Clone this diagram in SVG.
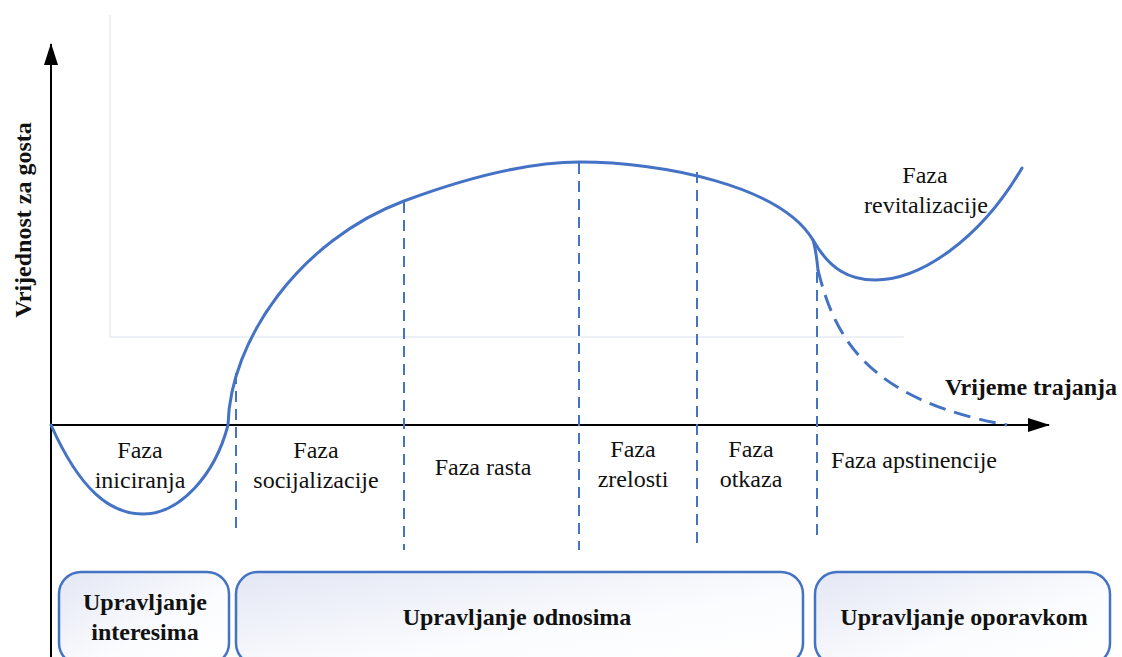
<svg xmlns="http://www.w3.org/2000/svg" width="1122" height="657" viewBox="0 0 1122 657">
<defs>
<linearGradient id="boxGrad" x1="0" y1="0" x2="1" y2="1">
<stop offset="0" stop-color="#e3e7f4"/>
<stop offset="0.6" stop-color="#fbfcfe"/>
<stop offset="1" stop-color="#ffffff"/>
</linearGradient>
<marker id="arrow" viewBox="0 0 22 14" refX="21" refY="7" markerWidth="22" markerHeight="14" markerUnits="userSpaceOnUse" orient="auto">
<path d="M0,0 L22,7 L0,14 Z" fill="#000"/>
</marker>
</defs>
<style>
.t{font-family:"Liberation Serif","Times New Roman",serif;font-size:24px;fill:#111;text-anchor:middle}
.b{font-weight:bold}
.curve{fill:none;stroke:#4472C4;stroke-width:3;stroke-linecap:round}
.vdash{fill:none;stroke:#4472C4;stroke-width:2;stroke-dasharray:11 7}
.ddash{fill:none;stroke:#4472C4;stroke-width:3;stroke-dasharray:17 9}
.axis{fill:none;stroke:#000;stroke-width:2}
.box{fill:url(#boxGrad);stroke:#4472C4;stroke-width:2.5}
.grid{fill:none;stroke:#e8ebf4;stroke-width:1.5}
</style>
<rect width="1122" height="657" fill="#fff"/>
<g id="plot-frame">
<path class="grid" d="M110,15 L110,337 L904,337"/>
</g>
<g id="axes">
<line class="axis" x1="51" y1="657" x2="51" y2="44" marker-end="url(#arrow)"/>
<line class="axis" x1="51" y1="425" x2="1049" y2="425" marker-end="url(#arrow)"/>
<text class="t b" transform="translate(31,220) rotate(-90)">Vrijednost za gosta</text>
<text class="t b" x="1031" y="395">Vrijeme trajanja</text>
</g>
<g id="connectors">
<line class="vdash" x1="236" y1="373" x2="236" y2="534"/>
<line class="vdash" x1="404" y1="202" x2="404" y2="550"/>
<line class="vdash" x1="579" y1="163" x2="579" y2="550"/>
<line class="vdash" x1="697" y1="172" x2="697" y2="550"/>
<line class="vdash" x1="817" y1="272" x2="817" y2="538"/>
<path class="curve" d="M51,425 C80,490 110,514 143,514 C180,514 215,475 228,425 C230,340 300,240 404,201 C474,175 530,162 580,162 C660,162 780,185 813,240 Q816,250 818,270"/>
<path class="curve" d="M813,240 C830,270 850,280 875,280 C920,280 980,240 1022,168"/>
<path class="ddash" d="M818,270 C835,340 870,400 1007,425"/>
</g>
<g id="phase-labels">
<text class="t" x="140" y="458">Faza</text>
<text class="t" x="140" y="488">iniciranja</text>
<text class="t" x="316" y="458">Faza</text>
<text class="t" x="316" y="488">socijalizacije</text>
<text class="t" x="483" y="475">Faza rasta</text>
<text class="t" x="633" y="457">Faza</text>
<text class="t" x="633" y="487">zrelosti</text>
<text class="t" x="751" y="457">Faza</text>
<text class="t" x="751" y="487">otkaza</text>
<text class="t" x="914" y="468">Faza apstinencije</text>
<text class="t" x="925" y="183">Faza</text>
<text class="t" x="926" y="213">revitalizacije</text>
</g>
<g id="box-interesi">
<rect class="box" x="59" y="572" width="170" height="93" rx="22"/>
<text class="t b" x="145" y="610">Upravljanje</text>
<text class="t b" x="145" y="640">interesima</text>
</g>
<g id="box-odnosi">
<rect class="box" x="236" y="572" width="567" height="93" rx="22"/>
<text class="t b" x="517" y="625">Upravljanje odnosima</text>
</g>
<g id="box-oporavak">
<rect class="box" x="815" y="572" width="295" height="93" rx="22"/>
<text class="t b" x="964" y="625">Upravljanje oporavkom</text>
</g>
</svg>
